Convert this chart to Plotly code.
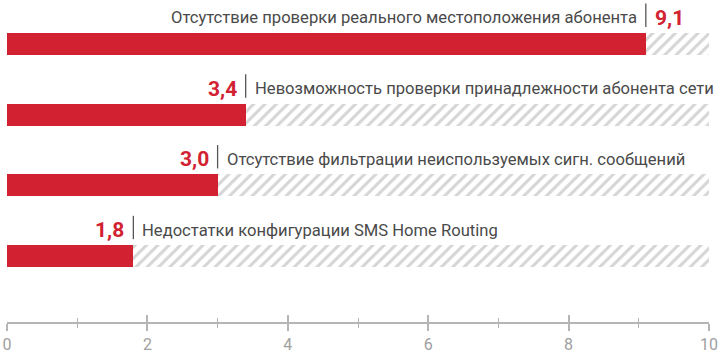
import plotly.graph_objects as go

categories = [
    "Отсутствие проверки реального местоположения абонента",
    "Невозможность проверки принадлежности абонента сети",
    "Отсутствие фильтрации неиспользуемых сигн. сообщений",
    "Недостатки конфигурации SMS Home Routing",
]
values = [9.1, 3.4, 3.0, 1.8]
value_labels = ["9,1", "3,4", "3,0", "1,8"]
x_max = 10
tick_vals = [0, 2, 4, 6, 8, 10]
tick_text = ["0", "2", "4", "6", "8", "10"]

RED = "#d22232"
GRAY_TEXT = "#4a4a4a"
AXIS = "#b5b5b5"

n = len(categories)
pos = [n - 1 - i for i in range(n)]  # top to bottom
bar_w = 0.31

fig = go.Figure()
fig.add_trace(go.Bar(
    x=[x_max] * n, y=pos, orientation="h", width=bar_w,
    marker=dict(color="white", line=dict(width=0),
                pattern=dict(shape="/", fgcolor="#ababab", bgcolor="white", size=8, solidity=0.38)),
    hoverinfo="skip", showlegend=False,
))
fig.add_trace(go.Bar(
    x=values, y=pos, orientation="h", width=bar_w,
    marker=dict(color=RED, line=dict(width=0)),
    showlegend=False,
))

for c, v, lab, p in zip(categories, values, value_labels, pos):
    left_desc = v > x_max / 2
    fig.add_shape(type="line", xref="x", yref="y", x0=v, x1=v,
                  y0=p + 0.24, y1=p + 0.57, line=dict(color="#555555", width=1.3))
    fig.add_annotation(x=v, y=p, yref="y", xref="x", yshift=26,
                       text=c, showarrow=False,
                       xanchor="right" if left_desc else "left",
                       xshift=-7 if left_desc else 7,
                       font=dict(family="Roboto", size=16.6, color=GRAY_TEXT))
    fig.add_annotation(x=v, y=p, yref="y", xref="x", yshift=26,
                       text="<b>" + lab + "</b>", showarrow=False,
                       xanchor="left" if left_desc else "right",
                       xshift=7 if left_desc else -7,
                       font=dict(family="Roboto", size=21, color=RED))

fig.update_layout(
    width=722, height=356,
    margin=dict(l=7, r=13, t=0, b=34),
    paper_bgcolor="white", plot_bgcolor="white",
    barmode="overlay", bargap=0,
    xaxis=dict(range=[0, x_max], showgrid=False, zeroline=False,
               showline=True, linecolor=AXIS, linewidth=2,
               tickvals=tick_vals, ticktext=tick_text,
               ticks="outside", ticklen=7, tickwidth=1.5, tickcolor=AXIS,
               minor=dict(dtick=1, ticks="outside", ticklen=4, tickwidth=1.2, tickcolor=AXIS),
               tickfont=dict(family="Roboto", size=16, color="#a0a0a0")),
    xaxis2=dict(range=[0, x_max], overlaying="x", side="bottom", anchor="y",
                showgrid=False, zeroline=False, showline=False,
                tickvals=tick_vals, showticklabels=False,
                ticks="inside", ticklen=7, tickwidth=1.5, tickcolor=AXIS,
                minor=dict(dtick=1, ticks="inside", ticklen=4, tickwidth=1.2, tickcolor=AXIS)),
    yaxis=dict(range=[-0.93, n - 1 + 0.62], visible=False, fixedrange=True),
)
fig.add_trace(go.Scatter(x=[None], y=[None], xaxis="x2", showlegend=False, hoverinfo="skip"))

fig.write_html("out.html", config={"displayModeBar": False},
               post_script="document.body.style.margin='0';")
